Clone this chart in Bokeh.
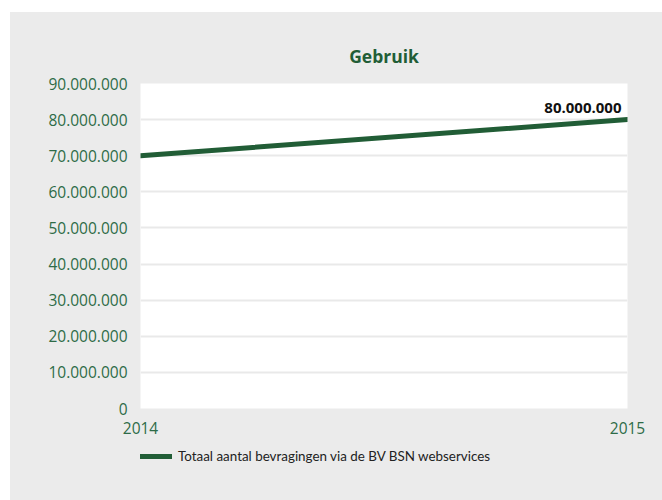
from bokeh.plotting import figure
from bokeh.layouts import column, row
from bokeh.models import ColumnDataSource, FixedTicker, Legend, LegendItem, Range1d, Spacer
from bokeh.core.properties import value
from bokeh.embed import file_html
from bokeh.resources import INLINE

years = [2014, 2015]
requests = [70000000, 80000000]
y_ticks = [0, 10000000, 20000000, 30000000, 40000000, 50000000, 60000000, 70000000, 80000000, 90000000]
series_name = "Totaal aantal bevragingen via de BV BSN webservices"
title_text = "Gebruik"

FONT = "Open Sans"
GREEN = "#215d36"
TICK_GREEN = "#2e6b47"
BG = "#ebebeb"

def fmt(v):
    return f"{v:,}".replace(",", ".")

src = ColumnDataSource(dict(x=years, y=requests))

p = figure(width=652, height=428, output_backend="svg", toolbar_location=None,
           x_range=Range1d(2014, 2015), y_range=Range1d(0, 90000000),
           min_border_left=130, min_border_right=35, min_border_top=71, min_border_bottom=32)
p.border_fill_color = BG
p.background_fill_color = "white"
p.outline_line_color = None

p.title.text = title_text
p.title.align = "center"
p.title.text_font = FONT
p.title.text_font_size = "17.5px"
p.title.text_font_style = "bold"
p.title.text_color = GREEN
p.title.standoff = 31

r = p.line("x", "y", source=src, line_color=GREEN, line_width=5, line_cap="round")

last = ColumnDataSource(dict(x=[years[-1]], y=[requests[-1]], lab=[fmt(requests[-1])]))
p.text("x", "y", text="lab", source=last, text_align="right", text_baseline="bottom",
       x_offset=-6, y_offset=-7, text_font=value(FONT), text_font_size="15px",
       text_font_style="bold", text_color="#111111")

p.yaxis.ticker = FixedTicker(ticks=y_ticks)
p.yaxis.major_label_overrides = {t: fmt(t) for t in y_ticks}
p.xaxis.ticker = FixedTicker(ticks=years)
p.xaxis.major_label_overrides = {y: str(y) for y in years}
for ax in (p.xaxis, p.yaxis):
    ax.axis_line_color = None
    ax.major_tick_line_color = None
    ax.minor_tick_line_color = None
    ax.major_label_text_font = FONT
    ax.major_label_text_font_size = "15.5px"
    ax.major_label_text_color = TICK_GREEN
p.yaxis.major_label_standoff = 7
p.xaxis.major_label_standoff = 7

p.xgrid.grid_line_color = None
p.ygrid.grid_line_color = "#e9e9e9"
p.ygrid.grid_line_width = 2

# legend strip below the chart (its frame gets aligned with the chart's frame)
q = figure(width=652, height=60, output_backend="svg", toolbar_location=None,
           x_range=Range1d(0, 1), y_range=Range1d(0, 1),
           min_border_left=130, min_border_right=35, min_border_top=0, min_border_bottom=0)
q.border_fill_color = None
q.background_fill_color = BG
q.outline_line_color = None
q.axis.visible = False
q.grid.visible = False
rq = q.line("x", "y", source=src, line_color=GREEN, line_width=5, line_cap="round")

legend = Legend(items=[LegendItem(label=series_name, renderers=[rq])],
                location=(0, 36), orientation="horizontal",
                background_fill_alpha=0, border_line_color=None,
                glyph_width=32, glyph_height=14, label_standoff=6,
                label_text_font="Lato", label_text_font_size="13.4px", label_text_color="#222222",
                padding=0, margin=0, spacing=0)
q.add_layout(legend, "center")

inner = column(p, q)
inner.styles = {"background-color": BG}
layout = column(Spacer(height=12), row(Spacer(width=10), inner))
open("out.html", "w").write(file_html(layout, INLINE))
